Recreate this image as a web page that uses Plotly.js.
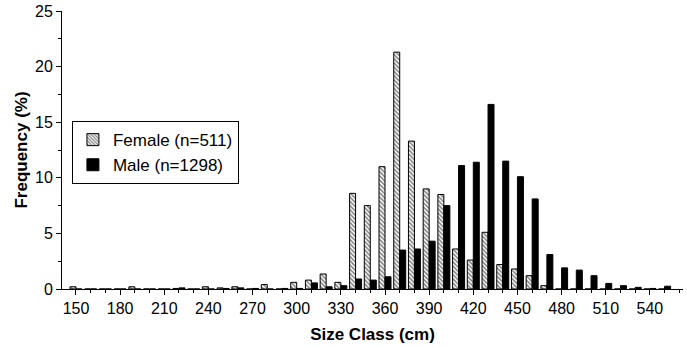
<!DOCTYPE html>
<html>
<head>
<meta charset="utf-8">
<script src="https://cdn.plot.ly/plotly-3.0.1.min.js"></script>
<style>
html,body{margin:0;padding:0;background:#fff;}
#chart{width:687px;height:347px;}
</style>
</head>
<body>
<div id="chart"></div>
<script>
// Size classes (cm)
var sizeClasses = [150,160,170,180,190,200,210,220,230,240,250,260,270,280,290,300,310,320,330,340,
                   350,360,370,380,390,400,410,420,430,440,450,460,470,480,490,500,510,520,530,540,550];
// Frequency (%) - Female (n=511)
var femaleFreq = [0.2,0,0,0,0.2,0,0,0.05,0,0.2,0.1,0.2,0,0.4,0,0.6,0.8,1.35,0.6,8.6,
                  7.5,11.0,21.3,13.3,9.0,8.5,3.6,2.6,5.1,2.2,1.8,1.2,0.3,0,0,0,0,0,0,0,0];
// Frequency (%) - Male (n=1298)
var maleFreq = [0,0,0,0,0,0,0,0.1,0,0,0.05,0.1,0.05,0,0.05,0.05,0.55,0.2,0.3,0.9,
                0.8,1.1,3.5,3.6,4.3,7.5,11.1,11.4,16.6,11.5,10.1,8.1,3.1,1.9,1.7,1.2,0.5,0.3,0.15,0.05,0.25];
var xTickVals = [150,180,210,240,270,300,330,360,390,420,450,480,510,540];
var yTickVals = [0,5,10,15,20,25];
var seriesNames = ['Female (n=511)', 'Male (n=1298)'];

var font = 'Arial, "Liberation Sans", Helvetica, sans-serif';

var traces = [
  {
    type: 'bar', name: seriesNames[0], x: sizeClasses, y: femaleFreq,
    marker: {
      color: '#ffffff',
      line: {color: '#000', width: 1},
      pattern: {shape: '\\', size: 3, solidity: 0.5, fgcolor: '#000', bgcolor: '#fff', fillmode: 'overlay'}
    },
    hoverinfo: 'x+y'
  },
  {
    type: 'bar', name: seriesNames[1], x: sizeClasses, y: maleFreq,
    marker: {color: '#000', line: {color: '#000', width: 1}},
    hoverinfo: 'x+y'
  }
];

var layout = {
  width: 687, height: 347,
  margin: {l: 62, r: 4, t: 11, b: 58},
  paper_bgcolor: '#fff', plot_bgcolor: '#fff',
  barmode: 'group', bargap: 0.185, bargroupgap: 0,
  showlegend: true,
  legend: {
    x: 0.016, y: 0.604, xanchor: 'left', yanchor: 'top',
    bordercolor: '#000', borderwidth: 1, bgcolor: '#fff',
    font: {family: font, size: 17, color: '#000'},
    traceorder: 'normal', itemwidth: 30
  },
  font: {family: font, color: '#000'},
  xaxis: {
    range: [140.5, 562.5],
    tickmode: 'array', tickvals: xTickVals,
    ticks: 'outside', ticklen: 5, tickwidth: 1, tickcolor: '#000',
    minor: {dtick: 10, tick0: 150, ticks: 'outside', ticklen: 3, tickcolor: '#000', showgrid: false},
    showline: true, linecolor: '#000', linewidth: 1,
    showgrid: false, zeroline: false,
    tickfont: {family: font, size: 16, color: '#000'},
    title: {text: 'Size Class (cm)', font: {family: font, size: 17, color: '#000', weight: 'bold'}, standoff: 11}
  },
  yaxis: {
    range: [0, 25],
    tickmode: 'array', tickvals: yTickVals,
    ticks: 'outside', ticklen: 5, tickwidth: 1, tickcolor: '#000',
    minor: {dtick: 2.5, ticks: 'outside', ticklen: 3, tickcolor: '#000', showgrid: false},
    showline: true, linecolor: '#000', linewidth: 1,
    showgrid: false, zeroline: false,
    tickfont: {family: font, size: 16, color: '#000'},
    title: {text: 'Frequency (%)', font: {family: font, size: 17, color: '#000', weight: 'bold'}, standoff: 3}
  }
};

Plotly.newPlot('chart', traces, layout, {displayModeBar: false, staticPlot: true});
</script>
</body>
</html>
